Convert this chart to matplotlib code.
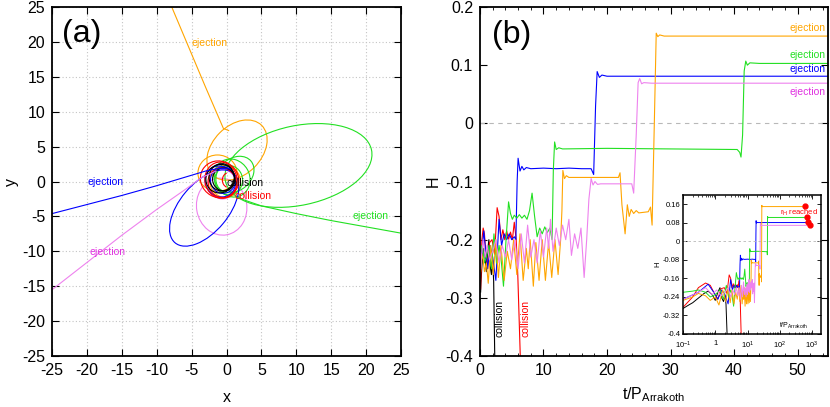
import numpy as np
import matplotlib.pyplot as plt
from matplotlib.patches import Ellipse, Arc
from matplotlib.ticker import MultipleLocator, FuncFormatter, FixedLocator, LogLocator, NullFormatter

plt.rcParams['font.family'] = ['Liberation Sans', 'DejaVu Sans']
plt.rcParams['mathtext.fontset'] = 'custom'
plt.rcParams['mathtext.rm'] = 'Liberation Sans'
plt.rcParams['mathtext.it'] = 'Liberation Sans:italic'
plt.rcParams['axes.unicode_minus'] = False

BLACK, RED, BLUE = '#000000', '#ff0000', '#0000ff'
GREEN, ORANGE, PINK = '#22e022', '#ffa500', '#ee82ee'
PINK_TXT = '#e030e0'

# ---------------- panel (a): trajectories (x, y) ----------------
orange_ej_x = [-7.85, -3.0, -0.45, 0.3]
orange_ej_y = [25.0, 13.5, 7.6, 7.3]
blue_ej_x = [-25, -20, -15, -10, -6, -3, -1, 0.5]
blue_ej_y = [-4.6, -3.3, -2.0, -0.6, 0.6, 1.5, 1.9, 1.8]
pink_ej_x = [-25, -20, -15, -10, -6, -3.5, -1.5]
pink_ej_y = [-15.5, -11.6, -7.7, -4.0, -1.2, 0.6, 1.5]
green_ej_x = [1.5, 5, 10, 15, 20, 25]
green_ej_y = [-2.3, -3.5, -4.6, -5.6, -6.5, -7.4]

# orbit loops: centre x, centre y, width, height, angle
black_loops = [(-0.7, 0.6, 3.6, 3.9, 0), (-0.4, 0.3, 3.2, 3.3, 20), (-0.9, 0.4, 4.2, 4.0, 40)]
red_loops = [(-0.8, 0.2, 4.6, 5.2, 10), (-1.0, 0.3, 5.2, 5.6, 60), (-0.6, -0.2, 4.0, 4.4, 30)]
blue_loops = [(-3.2, -3.8, 13.0, 7.0, 50), (-0.9, 0.0, 4.2, 4.6, 40), (-0.5, 0.2, 3.6, 3.8, 0)]
green_loops = [(10.3, 2.3, 21.4, 11.4, 12), (0.8, 0.5, 5.0, 5.6, 30), (0.3, 0.2, 4.0, 4.2, 0),
               (1.2, 1.0, 6.0, 4.6, 40)]
orange_loops = [(1.5, 4.5, 10.0, 7.0, 45), (-1.3, 1.2, 5.6, 5.2, 0), (-0.2, 0.0, 4.4, 4.6, 20)]
pink_loops = [(-0.7, -3.6, 7.2, 8.2, 10), (-0.6, -0.4, 4.0, 4.2, 0)]

# ---------------- panel (b): H against t/P ----------------
t_black = [0.1, 0.15, 0.2, 0.3, 0.45, 0.6, 0.8, 1.0, 1.2, 1.4, 1.6, 1.8, 2.0, 2.15, 2.35]
h_black = [-0.29, -0.275, -0.265, -0.245, -0.225, -0.215, -0.23, -0.255, -0.22, -0.2, -0.245,
           -0.26, -0.235, -0.27, -0.42]

t_red = [0.1, 0.2, 0.3, 0.5, 0.7, 0.9, 1.2, 1.5, 1.9, 2.3, 2.7, 3.0, 3.3, 3.6, 3.9, 4.2, 4.5,
         4.8, 5.1, 5.4, 5.7, 5.95, 6.4]
h_red = [-0.285, -0.24, -0.2, -0.18, -0.19, -0.22, -0.25, -0.205, -0.2, -0.225, -0.145, -0.16,
         -0.2, -0.183, -0.2, -0.185, -0.2, -0.187, -0.2, -0.17, -0.2, -0.26, -0.42]

t_blue = [0.1, 0.3, 0.6, 0.9, 1.2, 1.6, 2.0, 2.5, 3.0, 3.4, 3.8, 4.2, 4.6, 5.0, 5.4, 5.65, 5.85,
          6.0, 6.3, 6.6, 6.9, 7.3, 8, 10, 12, 14, 16, 17.5, 17.9, 18.2, 18.45, 18.8, 19.2, 20, 760]
h_blue = [-0.25, -0.22, -0.185, -0.22, -0.25, -0.21, -0.23, -0.27, -0.165, -0.21, -0.19, -0.2,
          -0.19, -0.2, -0.195, -0.2, -0.1, -0.06, -0.082, -0.074, -0.08, -0.076, -0.078, -0.077,
          -0.078, -0.077, -0.078, -0.078, -0.088, 0.03, 0.089, 0.079, 0.083, 0.081, 0.081]

t_green = [0.1, 0.2, 0.3, 0.5, 0.7, 1.0, 1.4, 1.8, 2.2, 2.6, 3.0, 3.3, 3.7, 4.1, 4.5, 4.8, 5.1,
           5.4, 5.8, 6.2, 6.6, 7.0, 7.4, 7.8, 8.2, 8.6, 9.0, 9.4, 9.8, 10.2, 10.6, 11.0, 11.35,
           11.55, 11.75, 12.0, 12.4, 13.0, 20, 30, 40.5, 40.9, 41.1, 41.35, 41.6, 41.85, 42.1,
           42.5, 44, 710]
h_green = [-0.22, -0.215, -0.21, -0.22, -0.24, -0.23, -0.21, -0.25, -0.19, -0.24, -0.21, -0.23,
           -0.28, -0.2, -0.135, -0.155, -0.165, -0.158, -0.163, -0.157, -0.163, -0.158, -0.165,
           -0.15, -0.12, -0.16, -0.195, -0.18, -0.19, -0.178, -0.188, -0.18, -0.2, -0.08,
           -0.032, -0.045, -0.042, -0.044, -0.043, -0.044, -0.045, -0.05, -0.058, -0.02, 0.09,
           0.107, 0.1, 0.104, 0.103, 0.103]

t_orange = [0.1, 0.2, 0.3, 0.5, 0.7, 1.0, 1.3, 1.7, 2.1, 2.5, 2.9, 3.3, 3.8, 4.3, 4.8, 5.3, 5.8,
            6.3, 6.8, 7.3, 7.6, 7.9, 8.4, 8.8, 9.3, 9.8, 10.3, 10.8, 11.3, 11.8, 12.3, 12.7,
            12.9, 13.05, 13.3, 13.6, 14.0, 18, 21.8, 22.05, 22.35, 22.85, 23.2, 23.5, 23.8, 24.2,
            24.6, 25.0, 26.5, 26.85, 27.1, 27.45, 27.75, 28.0, 28.3, 29, 588]
h_orange = [-0.255, -0.24, -0.225, -0.235, -0.255, -0.24, -0.275, -0.21, -0.26, -0.2, -0.265,
            -0.21, -0.27, -0.22, -0.25, -0.2, -0.26, -0.19, -0.27, -0.215, -0.25, -0.2, -0.28,
            -0.205, -0.27, -0.2, -0.27, -0.205, -0.265, -0.2, -0.26, -0.2, -0.15, -0.081,
            -0.095, -0.09, -0.093, -0.093, -0.093, -0.085, -0.14, -0.19, -0.14, -0.16, -0.148,
            -0.155, -0.15, -0.154, -0.152, -0.144, -0.175, 0.0, 0.155, 0.149, 0.152, 0.15, 0.15]

t_pink = [0.1, 0.3, 0.5, 0.8, 1.1, 1.5, 2.0, 2.5, 3.0, 3.5, 4.0, 4.5, 5.0, 5.5, 6.0, 6.5, 7.0,
          7.5, 8.0, 8.5, 9.0, 9.5, 10.0, 10.5, 10.8, 11.1, 11.5, 12.0, 12.5, 13.0, 13.5, 14.0,
          14.4, 14.9, 15.4, 15.9, 16.4, 16.8, 17.15, 17.5, 17.8, 18.1, 18.5, 19, 23.9, 24.2,
          24.6, 24.9, 25.15, 25.45, 25.8, 27, 850]
h_pink = [-0.25, -0.22, -0.2, -0.23, -0.21, -0.235, -0.22, -0.2, -0.24, -0.21, -0.23, -0.2,
          -0.235, -0.2, -0.25, -0.19, -0.24, -0.175, -0.23, -0.2, -0.24, -0.185, -0.23, -0.18,
          -0.215, -0.165, -0.22, -0.18, -0.21, -0.175, -0.2, -0.165, -0.227, -0.19, -0.215,
          -0.18, -0.265, -0.2, -0.13, -0.095, -0.106, -0.1, -0.105, -0.104, -0.104, -0.12,
          -0.02, 0.07, 0.077, 0.068, 0.07, 0.069, 0.069]

# times at which the Hill radius was reached (inset)
t_rh = [588, 710, 760, 850]
h_rh = [0.152, 0.104, 0.083, 0.071]

fig = plt.figure(figsize=(8.3, 4.07), dpi=100)
axa = fig.add_axes([0.0627, 0.1253, 0.4205, 0.8575])
axb = fig.add_axes([0.5783, 0.1253, 0.4193, 0.8575])
axi = fig.add_axes([0.8229, 0.1794, 0.1663, 0.3415])

LW = 0.8

# ---- (a)
for loops, c in [(pink_loops, PINK), (orange_loops, ORANGE), (green_loops, GREEN),
                 (blue_loops, BLUE), (red_loops, RED), (black_loops, BLACK)]:
    for cx, cy, w, h, ang in loops:
        axa.add_patch(Ellipse((cx, cy), w, h, angle=ang, fill=False, ec=c, lw=LW))
axa.add_patch(Arc((0.4, 0.2), 2.0, 2.2, theta1=110, theta2=250, ec=RED, lw=LW))
axa.plot(orange_ej_x, orange_ej_y, color=ORANGE, lw=LW)
axa.plot(blue_ej_x, blue_ej_y, color=BLUE, lw=LW)
axa.plot(pink_ej_x, pink_ej_y, color=PINK, lw=LW)
axa.plot(green_ej_x, green_ej_y, color=GREEN, lw=LW)

fs_small = 7.5
axa.text(-2.4, 19.8, 'ejection', color=ORANGE, fontsize=fs_small, ha='center', va='center')
axa.text(-17.4, 0.0, 'ejection', color=BLUE, fontsize=fs_small, ha='center', va='center')
axa.text(-17.0, -10.1, 'ejection', color=PINK_TXT, fontsize=fs_small, ha='center', va='center')
axa.text(20.6, -5.0, 'ejection', color=GREEN, fontsize=fs_small, ha='center', va='center')
axa.text(2.65, -0.2, 'collision', color=BLACK, fontsize=fs_small, ha='center', va='center')
axa.text(3.8, -2.1, 'collision', color=RED, fontsize=fs_small, ha='center', va='center')

axa.set_xlim(-25, 25)
axa.set_ylim(-25, 25)
axa.xaxis.set_major_locator(MultipleLocator(5))
axa.yaxis.set_major_locator(MultipleLocator(5))
axa.grid(True, color='#c4c4c4', linestyle=(0, (1, 2)), linewidth=0.8)
axa.set_axisbelow(True)
axa.set_xlabel('x', fontsize=11.5, labelpad=9)
axa.set_ylabel('y', fontsize=11.5, labelpad=2)
axa.text(0.086, 0.923, '(a)', transform=axa.transAxes, fontsize=23, ha='center', va='center')

# ---- (b)
axb.axhline(0, color='#b8b8b8', ls=(0, (4, 4)), lw=0.8)
series = [(t_black, h_black, BLACK), (t_red, h_red, RED), (t_blue, h_blue, BLUE),
          (t_green, h_green, GREEN), (t_orange, h_orange, ORANGE), (t_pink, h_pink, PINK)]
for t, h, c in series:
    axb.plot(t, h, color=c, lw=LW)
    axi.plot(t, h, color=c, lw=0.7)

axb.text(54.4, 0.164, 'ejection', color=ORANGE, fontsize=fs_small, ha='right', va='center')
axb.text(54.4, 0.117, 'ejection', color=GREEN, fontsize=fs_small, ha='right', va='center')
axb.text(54.4, 0.094, 'ejection', color=BLUE, fontsize=fs_small, ha='right', va='center')
axb.text(54.4, 0.054, 'ejection', color=PINK_TXT, fontsize=fs_small, ha='right', va='center')
axb.text(3.1, -0.335, 'collision', color=BLACK, fontsize=fs_small, rotation=90,
         ha='center', va='center')
axb.text(7.1, -0.335, 'collision', color=RED, fontsize=fs_small, rotation=90,
         ha='center', va='center')

axb.set_xlim(0, 54.8)
axb.set_ylim(-0.4, 0.2)
axb.xaxis.set_major_locator(MultipleLocator(10))
axb.xaxis.set_minor_locator(MultipleLocator(2))
axb.yaxis.set_major_locator(MultipleLocator(0.1))
axb.yaxis.set_major_formatter(FuncFormatter(lambda v, p: '0' if abs(v) < 1e-9 else f'{v:.1f}'))
axb.set_xlabel(r't/P$_{\mathrm{Arrakoth}}$', fontsize=11.5, labelpad=5)
axb.set_ylabel('H', fontsize=11.5, labelpad=3)
axb.text(0.092, 0.92, '(b)', transform=axb.transAxes, fontsize=23, ha='center', va='center')

for ax in (axa, axb):
    ax.tick_params(which='major', direction='in', top=True, right=True, length=5, width=0.8,
                   labelsize=11.5, pad=5)
    ax.tick_params(which='minor', direction='in', top=True, right=True, length=2.5, width=0.6)
    for s in ax.spines.values():
        s.set_linewidth(1.3)

# ---- inset
axi.axhline(0, color='#b8b8b8', ls=(0, (3, 3)), lw=0.6)
axi.plot(t_rh, h_rh, 'o', color=RED, ms=3.5, zorder=5)
axi.set_xscale('log')
axi.set_xlim(0.1, 1900)
axi.set_ylim(-0.4, 0.2)
axi.yaxis.set_major_locator(FixedLocator([-0.4, -0.32, -0.24, -0.16, -0.08, 0, 0.08, 0.16]))
axi.yaxis.set_major_formatter(FuncFormatter(lambda v, p: '0' if abs(v) < 1e-9 else f'{v:g}'))
xlab = {0.1: '$10^{-1}$', 1: '1', 10: '$10^{1}$', 100: '$10^{2}$', 1000: '$10^{3}$'}
axi.xaxis.set_major_locator(FixedLocator([0.1, 1, 10, 100, 1000]))
axi.xaxis.set_major_formatter(FuncFormatter(lambda v, p: xlab.get(round(v, 1) if v < 1 else round(v), '')))
axi.xaxis.set_minor_locator(LogLocator(base=10, subs=np.arange(2, 10), numticks=20))
axi.xaxis.set_minor_formatter(NullFormatter())
axi.tick_params(which='major', direction='in', top=True, right=True, length=3, width=0.6,
                labelsize=5.5, pad=2)
axi.tick_params(axis='x', which='major', pad=4)
axi.tick_params(which='minor', direction='in', top=True, right=True, length=1.5, width=0.5)
for s in axi.spines.values():
    s.set_linewidth(1.1)
axi.set_ylabel('H', fontsize=5.5, labelpad=1)
axi.text(0.8, 0.06, r't/P$_{\mathrm{Arrakoth}}$', transform=axi.transAxes, fontsize=5,
         ha='center', va='center')
axi.text(0.84, 0.87, r'r$_{\mathrm{H}}$ reached', transform=axi.transAxes, fontsize=5.5,
         color=RED, ha='center', va='center')

fig.savefig('out.png', dpi=100)
